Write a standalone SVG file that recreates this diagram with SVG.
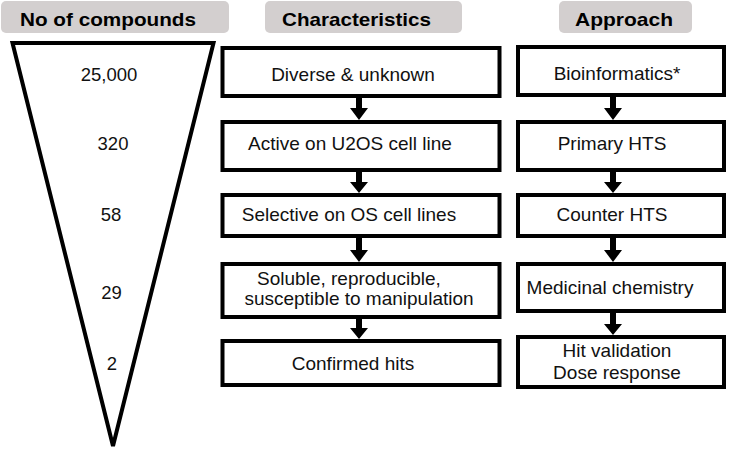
<svg xmlns="http://www.w3.org/2000/svg" width="729" height="453" viewBox="0 0 729 453">
<style>
.hdr{fill:#d3cfcf;stroke:none}
.ht{font-family:"Liberation Sans",Arial,sans-serif;font-weight:bold;font-size:19px;fill:#000}
.box{fill:#fff;stroke:#000;stroke-width:4}
.t{font-family:"Liberation Sans",Arial,sans-serif;font-size:19px;fill:#111;text-anchor:middle}
.n{font-family:"Liberation Sans",Arial,sans-serif;font-size:18.5px;fill:#111;text-anchor:middle}
.arr{fill:#000;stroke:none}
</style>
<rect width="729" height="453" fill="#fff"/>
<g id="header-compounds"><rect class="hdr" x="1" y="1" width="228" height="32" rx="5"/><text class="ht" x="20" y="26" textLength="176" lengthAdjust="spacingAndGlyphs">No of compounds</text></g>
<g id="header-characteristics"><rect class="hdr" x="265" y="1" width="197" height="32" rx="5"/><text class="ht" x="282" y="26" textLength="149" lengthAdjust="spacingAndGlyphs">Characteristics</text></g>
<g id="header-approach"><rect class="hdr" x="559" y="1" width="133" height="32" rx="5"/><text class="ht" x="575" y="26" textLength="98" lengthAdjust="spacingAndGlyphs">Approach</text></g>
<g id="funnel">
<polygon points="12.5,43 213.5,43 113,446" fill="#fff" stroke="#000" stroke-width="4" stroke-linejoin="miter"/>
<text class="n" x="109" y="81">25,000</text>
<text class="n" x="113" y="150">320</text>
<text class="n" x="111" y="221">58</text>
<text class="n" x="111.5" y="299">29</text>
<text class="n" x="112" y="370">2</text>
</g>
<g id="c1"><rect class="box" x="222.5" y="48" width="277" height="48"/><text class="t" x="353" y="81">Diverse &amp; unknown</text></g>
<g id="c2"><rect class="box" x="222.5" y="122" width="277" height="48"/><text class="t" x="350" y="149.5">Active on U2OS cell line</text></g>
<g id="c3"><rect class="box" x="222.5" y="195" width="277" height="41"/><text class="t" x="349" y="221">Selective on OS cell lines</text></g>
<g id="c4"><rect class="box" x="222.5" y="264" width="277" height="53"/><text class="t" x="349" y="285">Soluble, reproducible,</text><text class="t" x="359" y="305">susceptible to manipulation</text></g>
<g id="c5"><rect class="box" x="222.5" y="341" width="277" height="44"/><text class="t" x="353" y="369.5">Confirmed hits</text></g>
<g id="a1"><rect class="box" x="518" y="47" width="206" height="48"/><text class="t" x="617" y="80">Bioinformatics*</text></g>
<g id="a2"><rect class="box" x="518" y="122" width="206" height="48"/><text class="t" x="612" y="149.5">Primary HTS</text></g>
<g id="a3"><rect class="box" x="518" y="195" width="206" height="41"/><text class="t" x="612" y="221">Counter HTS</text></g>
<g id="a4"><rect class="box" x="518" y="264" width="206" height="47"/><text class="t" x="610" y="294">Medicinal chemistry</text></g>
<g id="a5"><rect class="box" x="518" y="337" width="206" height="50"/><text class="t" x="617" y="357">Hit validation</text><text class="t" x="617" y="379">Dose response</text></g>
<g id="connectors">
<polygon class="arr" points="356,98 362,98 362,108 368,108 359,120 350,108 356,108"/>
<polygon class="arr" points="356,172 362,172 362,182 368,182 359,193 350,182 356,182"/>
<polygon class="arr" points="356,238 362,238 362,250 368,250 359,262 350,250 356,250"/>
<polygon class="arr" points="356,319 362,319 362,328 368,328 359,339 350,328 356,328"/>
<polygon class="arr" points="610,97 616,97 616,108 622,108 613,120 604,108 610,108"/>
<polygon class="arr" points="610,172 616,172 616,182 622,182 613,193 604,182 610,182"/>
<polygon class="arr" points="610,238 616,238 616,250 622,250 613,262 604,250 610,250"/>
<polygon class="arr" points="610,313 616,313 616,324 622,324 613,335 604,324 610,324"/>
</g>
</svg>
